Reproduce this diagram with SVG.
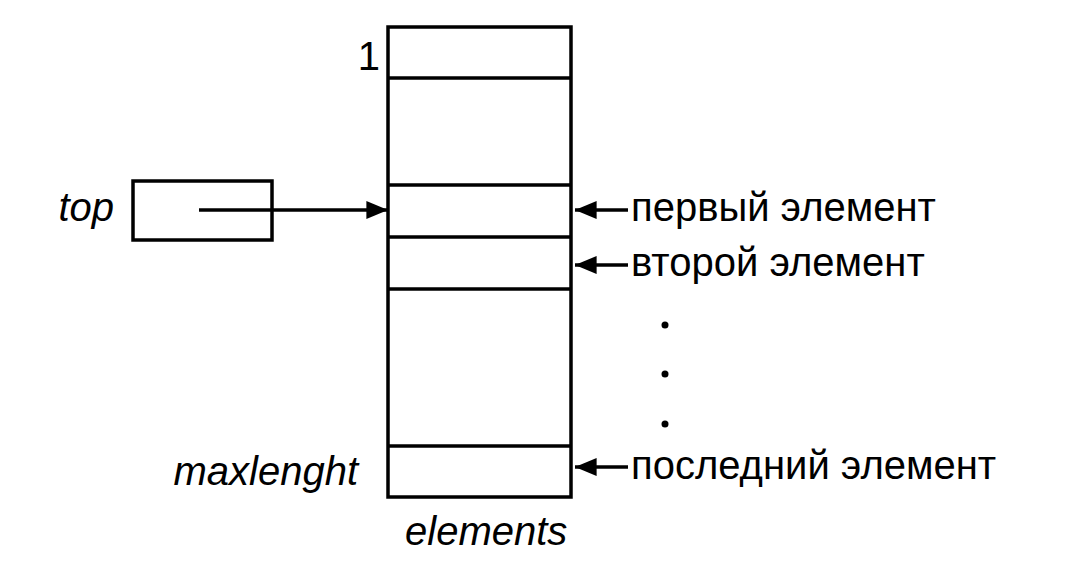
<svg xmlns="http://www.w3.org/2000/svg" width="1076" height="562" viewBox="0 0 1076 562">
<style>
.ln{stroke:#000;stroke-width:3.5;fill:none}
.t{font-family:"Liberation Sans",Arial,sans-serif;font-size:40px;fill:#000}
.i{font-style:italic}
</style>
<defs>
<marker id="ah2" viewBox="0 0 12 10" refX="12" refY="5" markerWidth="22" markerHeight="18" orient="auto" markerUnits="userSpaceOnUse">
<path d="M0,0 L12,5 L0,10 z" fill="#000"/>
</marker>
</defs>
<rect width="1076" height="562" fill="#fff"/>
<g id="elements">
<rect class="ln" x="388" y="27" width="183" height="470"/>
<line class="ln" x1="388" y1="78" x2="571" y2="78"/>
<line class="ln" x1="388" y1="185" x2="571" y2="185"/>
<line class="ln" x1="388" y1="237" x2="571" y2="237"/>
<line class="ln" x1="388" y1="289" x2="571" y2="289"/>
<line class="ln" x1="388" y1="446" x2="571" y2="446"/>
<text class="t" x="380" y="70" text-anchor="end">1</text>
<text class="t i" x="358" y="485" text-anchor="end">maxlenght</text>
<text class="t i" x="405" y="545">elements</text>
</g>
<g id="top">
<rect class="ln" x="133" y="181" width="139" height="59"/>
<text class="t i" x="114" y="221" text-anchor="end">top</text>
</g>
<g id="labels">
<text class="t" x="631" y="221">первый элемент</text>
<text class="t" x="631" y="276">второй элемент</text>
<text class="t" x="631" y="479">последний элемент</text>
<circle cx="665" cy="325" r="3.5"/>
<circle cx="665" cy="374" r="3.5"/>
<circle cx="665" cy="424" r="3.5"/>
</g>
<g id="connectors">
<line class="ln" x1="199" y1="210" x2="388" y2="210" marker-end="url(#ah2)"/>
<line class="ln" x1="628" y1="210" x2="575" y2="210" marker-end="url(#ah2)"/>
<line class="ln" x1="628" y1="265" x2="575" y2="265" marker-end="url(#ah2)"/>
<line class="ln" x1="628" y1="467" x2="575" y2="467" marker-end="url(#ah2)"/>
</g>
</svg>
